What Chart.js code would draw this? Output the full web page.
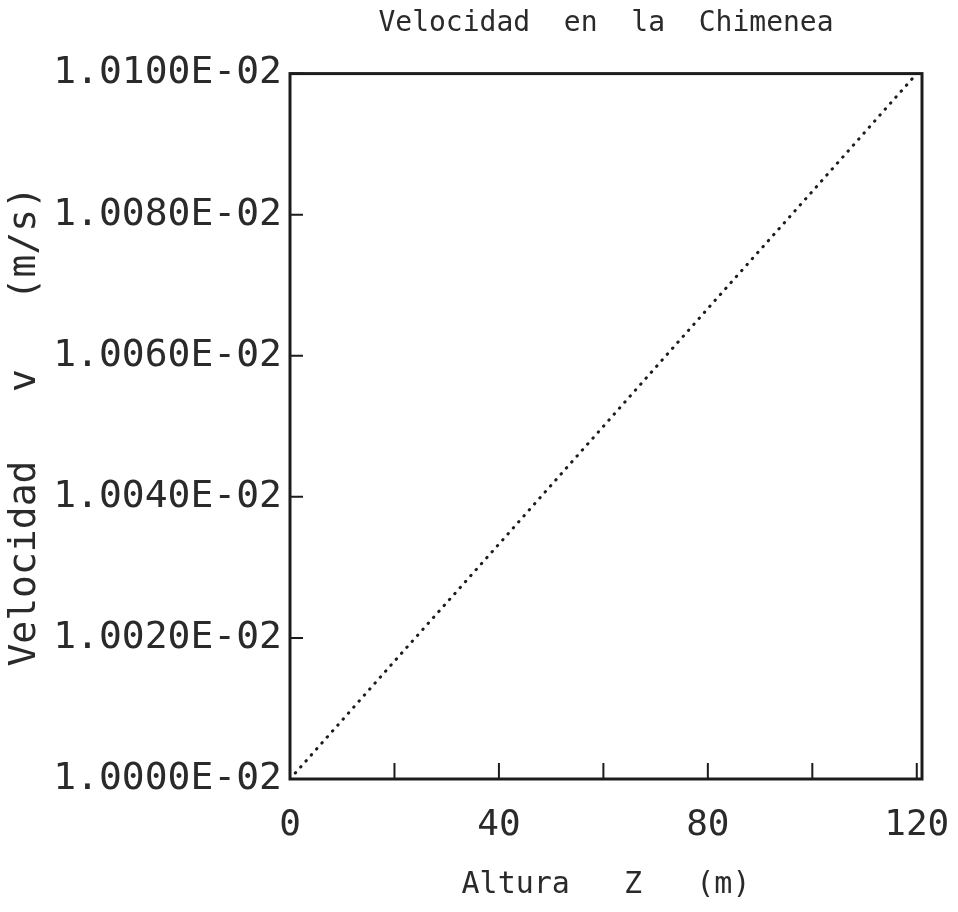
<!DOCTYPE html>
<html>
<head>
<meta charset="utf-8">
<script src="https://cdn.jsdelivr.net/npm/chart.js@4/dist/chart.umd.min.js"></script>
<style>
    html, body { margin: 0; padding: 0; background: #ffffff; }
    #wrap { width: 958px; height: 912px; }
</style>
</head>
<body>
<div id="wrap"><canvas id="chart" width="958" height="912"></canvas></div>
<script>
// data
const alturaZ = [0, 20, 40, 60, 80, 100, 120];
const velocidadV = [0.010000, 0.0100167, 0.0100333, 0.0100500, 0.0100667, 0.0100833, 0.010100];
const xLabelTicks = [0, 40, 80, 120];

const INK = '#1c1c1c';
const TEXT = '#2a2a2a';
const FONT = '"DejaVu Sans Mono", "Liberation Mono", monospace';

const formatVel = (v) => (v * 100).toFixed(4) + 'E-02';

// frame + inward ticks, positions taken from the scales
const framePlugin = {
    id: 'frame',
    afterDraw(chart) {
        const { ctx, chartArea: a, scales } = chart;
        ctx.save();
        ctx.strokeStyle = INK;
        ctx.lineWidth = 3;
        ctx.strokeRect(a.left, a.top, a.right - a.left, a.bottom - a.top);
        ctx.lineWidth = 2;
        ctx.beginPath();
        scales.x.ticks.forEach(t => {
            const px = scales.x.getPixelForValue(t.value);
            ctx.moveTo(px, a.bottom);
            ctx.lineTo(px, a.bottom - 16);
        });
        scales.y.ticks.forEach(t => {
            const py = scales.y.getPixelForValue(t.value);
            ctx.moveTo(a.left, py);
            ctx.lineTo(a.left + 13, py);
        });
        ctx.stroke();
        ctx.restore();
    }
};

new Chart(document.getElementById('chart').getContext('2d'), {
    type: 'line',
    data: {
        labels: alturaZ,
        datasets: [{
            data: alturaZ.map((z, i) => ({ x: z, y: velocidadV[i] })),
            borderColor: INK,
            borderWidth: 3,
            borderDash: [0.5, 7.5],
            borderCapStyle: 'round',
            pointRadius: 0,
            tension: 0,
            fill: false,
        }],
    },
    options: {
        responsive: false,
        animation: false,
        layout: { padding: { left: 0, right: 36, top: 0, bottom: 0 } },
        plugins: {
            legend: { display: false },
            tooltip: { enabled: false },
            title: {
                display: true,
                text: 'Velocidad  en  la  Chimenea',
                fullSize: false,
                color: TEXT,
                font: { family: FONT, size: 28, weight: 'normal' },
                padding: { top: 7, bottom: 33 },
            },
        },
        scales: {
            x: {
                type: 'linear',
                min: 0,
                max: 121,
                grid: { display: false, drawTicks: false },
                border: { display: false },
                ticks: {
                    stepSize: 20,
                    includeBounds: false,
                    maxRotation: 0,
                    padding: 25,
                    color: TEXT,
                    font: { family: FONT, size: 36 },
                    callback: (v) => xLabelTicks.includes(v) ? String(v) : '',
                },
                title: {
                    display: true,
                    text: 'Altura   Z   (m)',
                    color: TEXT,
                    font: { family: FONT, size: 30 },
                    padding: { top: 0, bottom: 9 },
                },
                afterFit: (scale) => {
                    scale.height = 133;
                    scale.paddingLeft = 0;
                    scale.paddingRight = 0;
                },
            },
            y: {
                type: 'linear',
                min: 0.0100,
                max: 0.0101,
                grid: { display: false, drawTicks: false },
                border: { display: false },
                ticks: {
                    stepSize: 0.00002,
                    padding: 8,
                    color: TEXT,
                    font: { family: FONT, size: 38 },
                    callback: (v) => formatVel(v),
                },
                title: {
                    display: true,
                    text: 'Velocidad   v   (m/s)',
                    color: TEXT,
                    font: { family: FONT, size: 38 },
                    padding: { top: 2, bottom: 0 },
                },
                afterFit: (scale) => { scale.width = 290; },
            },
        },
    },
    plugins: [framePlugin],
});
</script>
</body>
</html>
